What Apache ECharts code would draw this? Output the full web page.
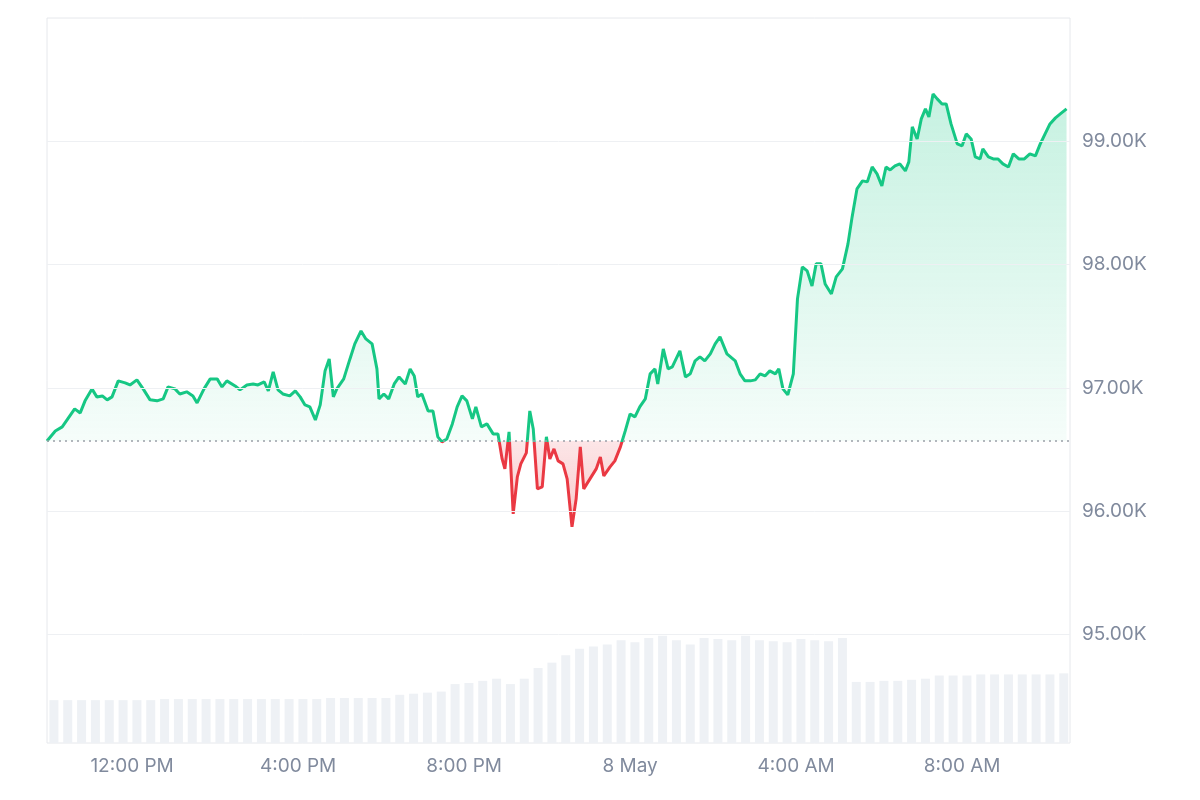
<!DOCTYPE html>
<html><head><meta charset="utf-8">
<script src="https://cdn.jsdelivr.net/npm/echarts@6/dist/echarts.min.js"></script>
<style>html,body{margin:0;background:#fff}#c{width:1200px;height:800px}</style>
</head><body><div id="c"></div>
<script>
// time in minutes since 00:00, 7 May
const startMinute = 597;   // 9:57 AM, 7 May
const endMinute = 2076;
const baseline = 96570;
const minutes = [0,12,22,33,40,48,55,65,72,80,87,94,103,113,120,130,139,149,159,168,175,185,192,202,211,217,227,236,246,253,260,272,279,289,298,305,314,320,327,334,341,351,359,366,373,380,388,395,402,408,414,419,429,438,445,454,461,470,477,480,487,494,502,509,518,525,531,536,542,551,558,565,571,578,586,593,600,607,615,620,628,636,645,652,658,662,668,674,680,685,693,698,703,709,716,722,727,733,739,746,752,759,765,771,776,785,794,800,805,814,821,829,836,843,850,857,865,872,879,883,891,898,904,915,923,930,937,944,951,959,966,973,983,995,1002,1009,1017,1024,1031,1038,1045,1053,1058,1064,1071,1079,1085,1092,1099,1106,1112,1119,1125,1134,1141,1150,1158,1164,1171,1179,1186,1193,1200,1207,1213,1219,1226,1233,1241,1246,1251,1258,1264,1270,1275,1281,1287,1294,1300,1307,1316,1323,1329,1336,1342,1349,1353,1361,1368,1375,1382,1390,1397,1405,1413,1421,1429,1436,1443,1450,1458,1465,1474];
const prices = [96570,96651,96684,96773,96830,96797,96895,96992,96927,96935,96903,96927,97057,97041,97024,97065,96992,96903,96895,96911,97008,96992,96951,96968,96935,96878,96992,97073,97073,97008,97057,97016,96984,97024,97032,97024,97049,96976,97130,96984,96951,96935,96976,96927,96862,96846,96740,96862,97138,97235,96927,96992,97073,97235,97357,97462,97397,97357,97154,96911,96951,96911,97032,97089,97032,97154,97097,96927,96951,96813,96813,96603,96562,96586,96708,96846,96935,96895,96749,96846,96684,96708,96627,96627,96424,96343,96643,95978,96278,96384,96473,96813,96667,96181,96197,96603,96424,96505,96408,96384,96262,95873,96100,96522,96181,96262,96343,96440,96286,96359,96408,96522,96651,96789,96765,96846,96911,97114,97154,97032,97316,97154,97170,97300,97089,97114,97219,97251,97219,97276,97357,97414,97276,97219,97114,97057,97057,97065,97114,97097,97138,97114,97154,96992,96943,97114,97722,97981,97949,97827,98006,98006,97843,97762,97900,97965,98168,98387,98614,98679,98671,98792,98736,98638,98792,98768,98800,98817,98760,98833,99117,99019,99182,99263,99198,99384,99344,99303,99303,99141,98979,98963,99060,99019,98873,98857,98938,98873,98857,98857,98817,98792,98898,98857,98857,98898,98882,98979,99060,99141,99190,99222,99263];
const volumes = [40,40,40,40,40,40,40,40,41,41,41,41,41,41,41,41,41,41,41,41,42,42,42,42,42,45,46,47,48,55,56,58,60,55,60,70,75,82,88,90,92,96,94,98,100,96,92,98,97,96,100,96,95,94,97,96,95,98,57,57,58,58,59,60,63,63,63,64,64,64,64,64,64,65];
const yTicks = [95000,96000,97000,98000,99000];
const xTicks = [720,960,1200,1440,1680,1920];

const t = m => startMinute + m;
const upData = minutes.map((m,i)=>[t(m),Math.max(prices[i],baseline)]);
const downData = minutes.map((m,i)=>[t(m),Math.min(prices[i],baseline)]);
const lineData = minutes.map((m,i)=>[t(m),prices[i]]);
const pMax = Math.max(...prices), pMin = Math.min(...prices);
const split = (pMax-baseline)/(pMax-pMin);
const volData = volumes.map((v,i)=>[t(i*20+10),v]);

function fmtX(v){const h=Math.round(v/60)%24;
 if(h===0) return '8 May';
 const hh=h%12===0?12:h%12; return hh+':00 '+(h<12?'AM':'PM');}

const chart = echarts.init(document.getElementById('c'));
const lab = {color:'#808a9d',fontSize:19,fontFamily:'Inter, sans-serif'};
chart.setOption({
 animation:false,
 grid:[{left:47,right:130,top:18,bottom:57,show:true,borderColor:'#e6e8ec',borderWidth:1},
       {left:47,right:130,top:623,bottom:57}],
 xAxis:[{type:'value',min:startMinute,max:endMinute,gridIndex:0,
   axisLine:{show:false},axisTick:{show:false},splitLine:{show:false},
   axisLabel:Object.assign({customValues:xTicks,formatter:fmtX,margin:14},lab)},
  {type:'value',min:startMinute,max:endMinute,gridIndex:1,show:false}],
 yAxis:[{type:'value',position:'right',min:94120,max:100000,gridIndex:0,
   axisLine:{show:false},axisTick:{show:false},splitLine:{show:false},
   axisLabel:Object.assign({customValues:yTicks,margin:12,formatter:v=>(v/1000).toFixed(2)+'K'},lab)},
  {type:'value',gridIndex:1,min:0,max:112,show:false}],
 series:[
  {type:'bar',xAxisIndex:1,yAxisIndex:1,data:volData,barWidth:'65%',itemStyle:{color:'#eef1f5'},silent:true,z:1},
  {type:'line',data:upData,showSymbol:false,lineStyle:{width:0},z:2,
   areaStyle:{origin:baseline,color:new echarts.graphic.LinearGradient(0,0,0,1,[{offset:0,color:'rgba(22,199,132,0.35)'},{offset:1,color:'rgba(22,199,132,0.06)'}])},
   markLine:{silent:true,symbol:'none',label:{show:false},
     data:yTicks.map(v=>({yAxis:v,lineStyle:{color:'#eef0f3',type:'solid',width:1}})).concat([{yAxis:baseline,lineStyle:{color:'#9aa0a8',type:[2,4],width:1.5}}])}},
  {type:'line',data:downData,showSymbol:false,lineStyle:{width:0},z:2,
   areaStyle:{origin:baseline,color:new echarts.graphic.LinearGradient(0,0,0,1,[{offset:0,color:'rgba(234,57,67,0.18)'},{offset:1,color:'rgba(234,57,67,0.4)'}])}},
  {type:'line',data:lineData,showSymbol:false,z:4,
   lineStyle:{width:3,color:new echarts.graphic.LinearGradient(0,0,0,1,[
     {offset:0,color:'#16c784'},{offset:split,color:'#16c784'},
     {offset:split,color:'#ea3943'},{offset:1,color:'#ea3943'}])}}
 ]
});
</script></body></html>
